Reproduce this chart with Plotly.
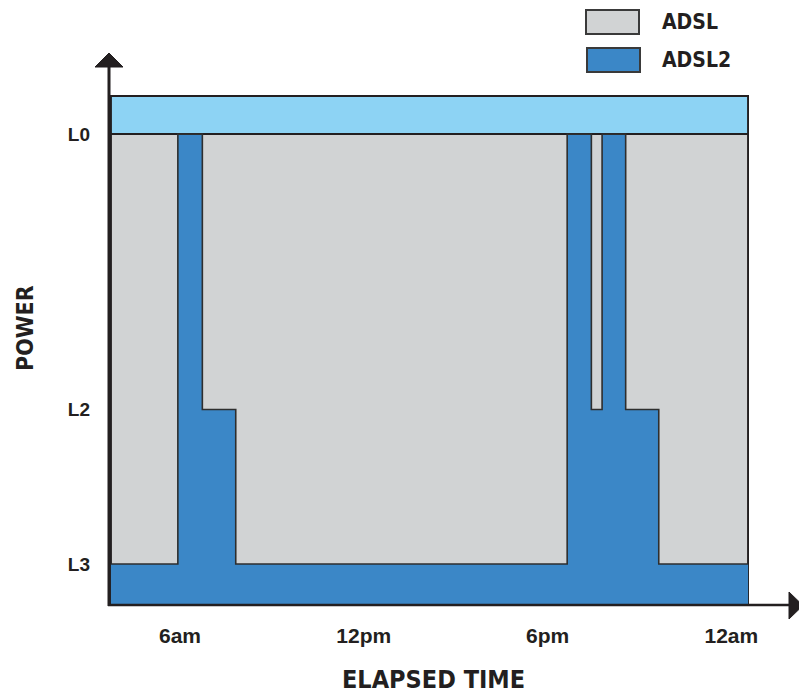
import plotly.graph_objects as go

# ---------------- data ----------------
TIME_TICKS = [6, 12, 18, 24]                      # hours
TIME_LABELS = ["6am", "12pm", "6pm", "12am"]
X_START, X_END = 3.745, 24.546                   # visible time window (hours)

LEVEL_NAMES = ["L0", "L2", "L3"]
LEVEL_VALUES = [100.0, 41.5, 8.7]                # relative power
BAND_TOP = 108.1                                 # top of the light band above L0

# ADSL: always at full power (L0)
ADSL_X = [X_START, X_END]
ADSL_Y = [100.0, 100.0]

# ADSL2: power state over the day (step changes)
ADSL2_X = [3.745, 5.93, 6.73, 7.82, 18.64, 19.43, 19.78, 20.55, 21.63, 24.546]
ADSL2_Y = [8.7, 100.0, 41.5, 8.7, 100.0, 41.5, 100.0, 41.5, 8.7, 8.7]

# ---------------- style ----------------
DARK = "#231f20"
GREY = "#d1d3d4"
BLUE = "#3b87c7"
LIGHT = "#8dd3f4"
COND = "Liberation Sans Narrow, DejaVu Sans Condensed, Arial Narrow, sans-serif"
SANS = "Liberation Sans, Arial, sans-serif"

OFF = 8                      # page body margin in the browser
W_PX, H_PX = 807 - OFF, 696 - OFF
L, R, T, B = 110 - OFF, 58, 95 - OFF, 91
PW, PH = W_PX - L - R, H_PX - T - B


def px(xp):  # page pixel -> paper x
    return (xp - OFF - L) / PW


def py(yp):  # page pixel -> paper y
    return (H_PX - B - (yp - OFF)) / PH


fig = go.Figure()

# light band above L0
fig.add_trace(go.Scatter(
    x=[ADSL_X[0], ADSL_X[1], ADSL_X[1], ADSL_X[0], ADSL_X[0]],
    y=[ADSL_Y[0], ADSL_Y[1], BAND_TOP, BAND_TOP, ADSL_Y[0]],
    mode="lines", fill="toself", fillcolor=LIGHT,
    line=dict(color=DARK, width=2), showlegend=False, hoverinfo="skip"))

# ADSL (grey)
fig.add_trace(go.Scatter(
    x=[ADSL_X[0], ADSL_X[1], ADSL_X[1], ADSL_X[0], ADSL_X[0]],
    y=[0, 0, ADSL_Y[1], ADSL_Y[0], 0],
    mode="lines", fill="toself", fillcolor=GREY,
    line=dict(color=DARK, width=2), name="ADSL", showlegend=False))

# ADSL2 (blue step)
fig.add_trace(go.Scatter(
    x=ADSL2_X, y=ADSL2_Y, mode="lines", line_shape="hv",
    fill="tozeroy", fillcolor=BLUE,
    line=dict(color="#2e2e2e", width=1.6), name="ADSL2", showlegend=False))

shapes = []
# y axis line + arrow
shapes.append(dict(type="line", xref="paper", yref="paper",
                   x0=px(109), x1=px(109), y0=py(606), y1=py(66),
                   line=dict(color=DARK, width=3)))
shapes.append(dict(type="path", xref="paper", yref="paper",
                   path=f"M {px(95)},{py(67)} L {px(123)},{py(67)} L {px(109)},{py(53)} Z",
                   fillcolor=DARK, line=dict(color=DARK, width=1)))
# x axis line + arrow
shapes.append(dict(type="line", xref="paper", yref="paper",
                   x0=px(108), x1=px(790), y0=py(605), y1=py(605),
                   line=dict(color=DARK, width=2.5)))
shapes.append(dict(type="path", xref="paper", yref="paper",
                   path=f"M {px(789)},{py(592)} L {px(789)},{py(619)} L {px(803)},{py(605.5)} Z",
                   fillcolor=DARK, line=dict(color=DARK, width=1)))
# legend boxes
shapes.append(dict(type="rect", xref="paper", yref="paper",
                   x0=px(586), x1=px(639), y0=py(34), y1=py(10),
                   fillcolor=GREY, line=dict(color="#3a3a3a", width=2)))
shapes.append(dict(type="rect", xref="paper", yref="paper",
                   x0=px(587), x1=px(640), y0=py(72), y1=py(48),
                   fillcolor=BLUE, line=dict(color="#3a3a3a", width=2)))

annotations = [
    dict(text="<b>ADSL</b>", xref="paper", yref="paper", x=px(660), y=py(22),
         xanchor="left", yanchor="middle", showarrow=False,
         font=dict(family=COND, size=21, color=DARK)),
    dict(text="<b>ADSL2</b>", xref="paper", yref="paper", x=px(660), y=py(60),
         xanchor="left", yanchor="middle", showarrow=False,
         font=dict(family=COND, size=21, color=DARK)),
    dict(text="<b>ELAPSED TIME</b>", xref="paper", yref="paper", x=px(433), y=py(679),
         xanchor="center", yanchor="middle", showarrow=False, borderpad=0,
         font=dict(family=COND, size=25, color=DARK)),
    dict(text="<b>POWER</b>", xref="paper", yref="paper", x=px(25), y=py(328),
         xanchor="center", yanchor="middle", showarrow=False, textangle=-90,
         font=dict(family=COND, size=23, color=DARK)),
]

fig.update_layout(
    width=W_PX, height=H_PX,
    margin=dict(l=L, r=R, t=T, b=B),
    paper_bgcolor="white", plot_bgcolor="white",
    shapes=shapes, annotations=annotations,
    showlegend=False,
    xaxis=dict(range=[X_START - 0.03, X_END + 0.03], tickvals=TIME_TICKS, ticktext=TIME_LABELS,
               showgrid=False, zeroline=False, showline=False, ticks="",
               ticklabelstandoff=16,
               tickfont=dict(family=SANS, size=21, color=DARK, weight="bold")),
    yaxis=dict(range=[0, BAND_TOP + 0.2], tickvals=LEVEL_VALUES, ticktext=LEVEL_NAMES,
               showgrid=False, zeroline=False, showline=False, ticks="",
               ticklabelstandoff=19,
               tickfont=dict(family=SANS, size=19, color=DARK, weight="bold")),
)

fig.write_html("out.html")
